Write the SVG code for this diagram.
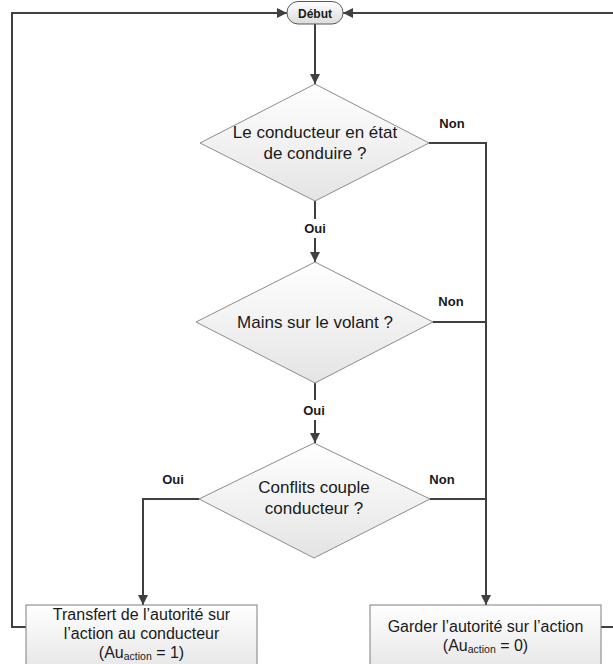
<svg xmlns="http://www.w3.org/2000/svg" width="613" height="664" viewBox="0 0 613 664">
<defs>
<style>
.txt{font-family:"Liberation Sans",Arial,sans-serif;font-size:17px;fill:#1a1a1a;text-anchor:middle}
.bt{font-size:16px}
.sub{font-size:10.5px}
.lbl{font-family:"Liberation Sans",Arial,sans-serif;font-size:13px;font-weight:bold;fill:#1a1a1a;text-anchor:middle}
.dia{fill:url(#gD);stroke:#8c8c8c;stroke-width:1}
.box{fill:url(#gB);stroke:#7f7f7f;stroke-width:1}
.con{fill:none;stroke:#404040;stroke-width:2}
</style>
<linearGradient id="gD" x1="0" y1="0" x2="0" y2="1">
<stop offset="0" stop-color="#ffffff"/><stop offset="1" stop-color="#e4e4e4"/>
</linearGradient>
<linearGradient id="gB" x1="0" y1="0" x2="0" y2="1">
<stop offset="0" stop-color="#ffffff"/><stop offset="1" stop-color="#e6e6e6"/>
</linearGradient>
<linearGradient id="gS" x1="0" y1="0" x2="0" y2="1">
<stop offset="0" stop-color="#ffffff"/><stop offset="1" stop-color="#dcdcdc"/>
</linearGradient>
<marker id="arr" markerUnits="userSpaceOnUse" markerWidth="10" markerHeight="10" refX="10" refY="5" orient="auto">
<path d="M0,0 L10,5 L0,10 z" fill="#404040"/>
</marker>
</defs>
<rect width="613" height="664" fill="#ffffff"/>

<g id="connectors">
<path class="con" d="M315,24 V84" marker-end="url(#arr)"/>
<path class="con" d="M315,201 V219"/>
<path class="con" d="M315,238 V262" marker-end="url(#arr)"/>
<path class="con" d="M315,383 V400"/>
<path class="con" d="M315,420 V443" marker-end="url(#arr)"/>
<path class="con" d="M429,143 H486 V605" marker-end="url(#arr)"/>
<path class="con" d="M433,322 H486"/>
<path class="con" d="M430,499 H486"/>
<path class="con" d="M199,499 H143 V605" marker-end="url(#arr)"/>
<path class="con" d="M26,627 H12 V13 H287" marker-end="url(#arr)"/>
<path class="con" d="M601,627 H617 V13 H343" marker-end="url(#arr)"/>
</g>

<g id="start">
<rect x="287" y="1.5" width="56" height="22.5" rx="11" ry="11" fill="url(#gS)" stroke="#595959" stroke-width="1"/>
<text class="lbl" x="315" y="17.5" style="font-size:12px">Début</text>
</g>

<g id="decision1">
<polygon class="dia" points="315,84 429,143 315,201 200,143"/>
<text class="txt" x="315" y="138">Le conducteur en état</text>
<text class="txt" x="315" y="159">de conduire ?</text>
</g>

<g id="decision2">
<polygon class="dia" points="315,262 433,322 315,383 196,322"/>
<text class="txt" x="315" y="328">Mains sur le volant ?</text>
</g>

<g id="decision3">
<polygon class="dia" points="314,443 430,499 314,558 199,499"/>
<text class="txt" x="314" y="493">Conflits couple</text>
<text class="txt" x="314" y="514">conducteur ?</text>
</g>

<g id="transfer">
<rect class="box" x="26" y="605" width="231" height="66"/>
<text class="txt bt" x="141.5" y="620">Transfert de l’autorité sur</text>
<text class="txt bt" x="141.5" y="639">l’action au conducteur</text>
<text class="txt bt" x="141.5" y="658">(Au<tspan class="sub" dy="2">action</tspan><tspan dy="-2"> = 1)</tspan></text>
</g>

<g id="keep">
<rect class="box" x="370" y="605" width="231" height="66"/>
<text class="txt bt" x="485.5" y="632">Garder l’autorité sur l’action</text>
<text class="txt bt" x="485.5" y="651">(Au<tspan class="sub" dy="2">action</tspan><tspan dy="-2"> = 0)</tspan></text>
</g>

<g id="labels">
<text class="lbl" x="452" y="128">Non</text>
<text class="lbl" x="315" y="233">Oui</text>
<text class="lbl" x="451" y="306">Non</text>
<text class="lbl" x="314" y="415">Oui</text>
<text class="lbl" x="173" y="484">Oui</text>
<text class="lbl" x="442" y="484">Non</text>
</g>
</svg>
